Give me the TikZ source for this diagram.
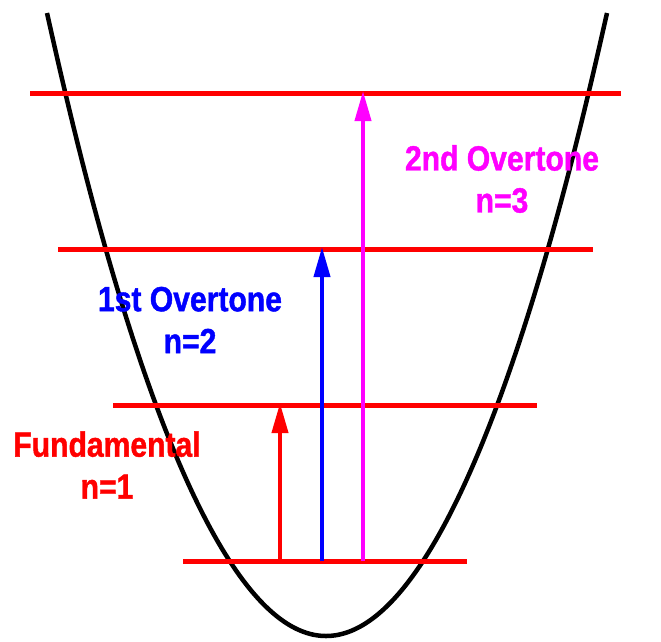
\documentclass[tikz,border=0pt]{standalone}
\usepackage{fontspec}
\newfontfamily\labfont[FakeStretch=0.86, BoldFeatures={FakeBold=1.2}]{Liberation Sans}
\usetikzlibrary{arrows.meta}
\definecolor{lvlred}{RGB}{255,0,0}
\definecolor{ovblue}{RGB}{0,0,255}
\definecolor{ovmag}{RGB}{255,0,255}
\tikzset{
  level/.style={draw=lvlred, line width=5pt},
  trans/.style={line width=4pt, -{Triangle[length=30pt,width=16pt]}, shorten >=-2pt},
  lab/.style={font=\labfont\bfseries\fontsize{35}{42}\selectfont, align=center, inner sep=0pt}
}
\begin{document}
\begin{tikzpicture}[x=1pt,y=-1pt]
\useasboundingbox (0,0) rectangle (661,641);
% potential
\draw[line width=4.5pt] (47,13) parabola bend (326,636) (607,13);
% levels
\coordinate (l0a) at (183,561); \coordinate (l0b) at (467,561);
\coordinate (l1a) at (113,405); \coordinate (l1b) at (537,405);
\coordinate (l2a) at (58,249);  \coordinate (l2b) at (593,249);
\coordinate (l3a) at (30,93);   \coordinate (l3b) at (621,93);
\draw[level] (l0a) -- (l0b);
\draw[level] (l1a) -- (l1b);
\draw[level] (l2a) -- (l2b);
\draw[level] (l3a) -- (l3b);
% transitions
\coordinate (f0) at (280,561); \coordinate (f1) at (280,405);
\coordinate (b0) at (322,561); \coordinate (b1) at (322,249);
\coordinate (m0) at (363,561); \coordinate (m1) at (363,93);
\draw[trans, lvlred] (f0) -- (f1);
\draw[trans, ovblue] (b0) -- (b1);
\draw[trans, ovmag] (m0) -- (m1);
% labels
\node[lab, text=lvlred] (fund) at (107,465) {Fundamental\\n=1};
\node[lab, text=ovblue] (ov1) at (190,320) {1st Overtone\\n=2};
\node[lab, text=ovmag] (ov2) at (502,179) {2nd Overtone\\n=3};
\end{tikzpicture}
\end{document}
